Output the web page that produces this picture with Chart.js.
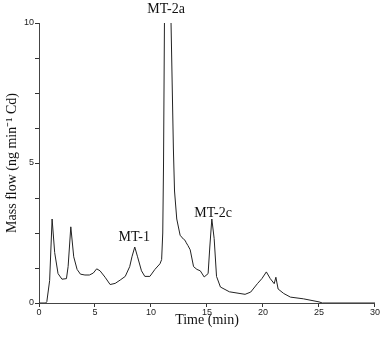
<!DOCTYPE html>
<html>
<head>
<meta charset="utf-8">
<script src="https://cdn.jsdelivr.net/npm/chart.js@4"></script>
<style>
  html, body { margin: 0; padding: 0; background: #fff; }
  #wrap { width: 380px; height: 337px; }
</style>
</head>
<body>
<div id="wrap"><canvas id="mycanvas"></canvas></div>
<script>
// retention time (min) and Cd mass flow
var times = [0, 0.6, 0.7, 0.95, 1.17, 1.4, 1.7, 2.05, 2.45, 2.6, 2.84, 3.1, 3.4, 3.7, 4.1, 4.5, 4.85, 5.15, 5.45, 5.9,
  6.35, 6.8, 7.25, 7.7, 8.1, 8.3, 8.55, 8.8, 9.15, 9.45, 9.9, 10.35, 10.8, 10.95, 11.05, 11.12, 11.2, 11.5, 11.79,
  12.0, 12.1, 12.3, 12.6, 12.9, 13.04, 13.15, 13.3, 13.5, 13.8, 14.1, 14.4, 14.75, 15.1, 15.25, 15.43, 15.64, 15.85,
  16.2, 17.0, 18.4, 18.9, 19.5, 19.9, 20.3, 20.65, 21.0, 21.15, 21.35, 21.85, 22.45, 23.6, 25.0, 25.3, 30];
var flow = [0, 0, 0.05, 0.8, 3.0, 1.8, 1.05, 0.85, 0.87, 1.3, 2.72, 1.65, 1.2, 1.03, 1.0, 1.0, 1.07, 1.22, 1.15, 0.92,
  0.66, 0.7, 0.82, 0.95, 1.3, 1.65, 2.0, 1.65, 1.15, 0.95, 0.95, 1.2, 1.4, 1.55, 2.5, 5, 10, 16, 10,
  5.5, 4, 3.0, 2.42, 2.28, 2.24, 2.15, 2.05, 1.9, 1.3, 1.2, 1.15, 0.93, 1.05, 2.0, 3.0, 2.3, 0.95,
  0.57, 0.4, 0.31, 0.39, 0.69, 0.87, 1.11, 0.87, 0.69, 0.92, 0.5, 0.34, 0.21, 0.15, 0.04, 0, 0];

var peakNames = ['MT-1', 'MT-2a', 'MT-2c'];
var peakTimes = [8.5, 11.35, 15.55];
var peakLabelY = [2.33, 10.5, 3.2];

var xTicks = [0, 5, 10, 15, 20, 25, 30];
var yTicks = [0, 1.25, 2.5, 3.75, 5, 6.25, 7.5, 8.75, 10];
var yLabels = [0, 5, 10];

var points = [];
for (var i in times) {
  points.push({x: times[i], y: flow[i]});
}

var peakLabels = {
  id: 'peakLabels',
  afterDraw: function(chart) {
    var c = chart.ctx;
    var xs = chart.scales.x, ys = chart.scales.y;
    c.save();
    c.fillStyle = '#111';
    c.font = '14px "Liberation Serif", "Times New Roman", serif';
    c.textAlign = 'center';
    c.textBaseline = 'middle';
    for (var i in peakNames) {
      c.fillText(peakNames[i], xs.getPixelForValue(peakTimes[i]), ys.getPixelForValue(peakLabelY[i]));
    }
    c.restore();
  }
};

var ctx = document.getElementById('mycanvas');

var chromChart = new Chart(ctx, {
  type: 'scatter',
  data: {
    datasets: [{
      data: points,
      showLine: true,
      borderColor: '#222',
      borderWidth: 1,
      pointRadius: 0,
      tension: 0
    }]
  },
  options: {
    responsive: true,
    maintainAspectRatio: false,
    animation: false,
    layout: { padding: { top: 23, right: 5, left: 0, bottom: 0 } },
    plugins: { legend: { display: false }, tooltip: { enabled: false } },
    scales: {
      x: {
        type: 'linear',
        min: 0,
        max: 30,
        afterFit: function(s) { s.height = 34; },
        afterBuildTicks: function(s) { s.ticks = xTicks.map(function(v) { return {value: v}; }); },
        grid: { drawOnChartArea: false, drawTicks: true, tickLength: 4, color: '#333' },
        border: { color: '#444', width: 1 },
        ticks: {
          padding: 0,
          color: '#222',
          maxRotation: 0,
          autoSkip: false,
          font: { family: '"Liberation Sans", Arial, sans-serif', size: 9 }
        },
        title: {
          display: true,
          text: 'Time (min)',
          color: '#111',
          padding: { top: 0, bottom: 8.5 },
          font: { family: '"Liberation Serif", "Times New Roman", serif', size: 14 }
        }
      },
      y: {
        min: 0,
        max: 10,
        afterFit: function(s) { s.width = 39; },
        afterBuildTicks: function(s) { s.ticks = yTicks.map(function(v) { return {value: v}; }); },
        ticks: {
          padding: 1,
          color: '#222',
          autoSkip: false,
          font: { family: '"Liberation Sans", Arial, sans-serif', size: 9 },
          callback: function(v) { return yLabels.indexOf(v) >= 0 ? v : ''; }
        },
        grid: { drawOnChartArea: false, drawTicks: true, tickLength: 4, color: '#333' },
        border: { color: '#444', width: 1 },
        title: {
          display: true,
          text: 'Mass flow (ng min\u207B\u00B9 Cd)',
          color: '#111',
          padding: { top: 3.5, bottom: 0 },
          font: { family: '"Liberation Serif", "Times New Roman", serif', size: 14 }
        }
      }
    }
  },
  plugins: [peakLabels]
});
</script>
</body>
</html>
